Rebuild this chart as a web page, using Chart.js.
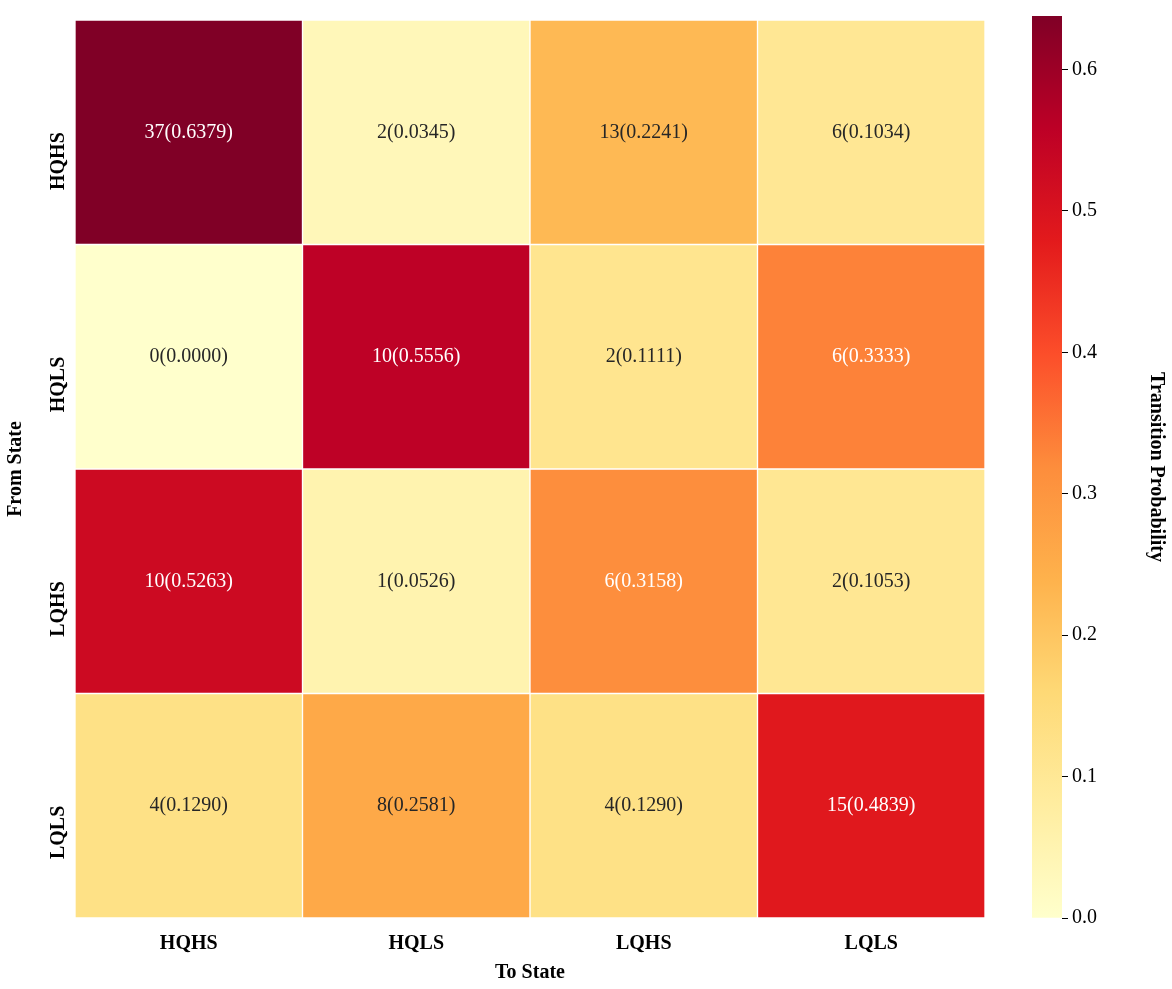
<!DOCTYPE html>
<html><head><meta charset="utf-8">
<script src="https://cdn.jsdelivr.net/npm/chart.js@4/dist/chart.umd.min.js"></script>
<style>body{margin:0;background:#fff}#a{position:absolute;left:0;top:0}#b{position:absolute;left:1000px;top:0}</style>
</head><body>
<canvas id="a" width="1000" height="989"></canvas>
<canvas id="b" width="172" height="989"></canvas>
<script>
const toStates = ["HQHS","HQLS","LQHS","LQLS"];
const fromStates = ["HQHS","HQLS","LQHS","LQLS"];
const counts = [[37,2,13,6],[0,10,2,6],[10,1,6,2],[4,8,4,15]];
const probs = [[0.6379,0.0345,0.2241,0.1034],[0.0000,0.5556,0.1111,0.3333],[0.5263,0.0526,0.3158,0.1053],[0.1290,0.2581,0.1290,0.4839]];
const cbTicks = [0.0,0.1,0.2,0.3,0.4,0.5,0.6];
const vmax = 0.6379;
const stops = ["#ffffcc","#ffeda0","#fed976","#feb24c","#fd8d3c","#fc4e2a","#e31a1c","#bd0026","#800026"];
function hex(h){return [1,3,5].map(i=>parseInt(h.substr(i,2),16));}
function cmap(v){let t=Math.max(0,Math.min(1,v/vmax))*(stops.length-1);let i=Math.min(Math.floor(t),stops.length-2);let f=t-i;let a=hex(stops[i]),b=hex(stops[i+1]);return `rgb(${a.map((x,k)=>Math.round(x+(b[k]-x)*f)).join(',')})`;}
Chart.defaults.font.family="'Liberation Serif', serif";
Chart.defaults.color="#000";
const FS=20;
const datasets = fromStates.map((fs,r)=>({
  label:fs,
  data: toStates.map(()=>[r,r+1]),
  backgroundColor: probs[r].map(cmap),
  borderColor:"#fff",borderWidth:1,borderSkipped:false,
  barPercentage:1,categoryPercentage:1,grouped:false
}));
const labelPlugin={id:'lbl',afterDatasetsDraw(c){const ctx=c.ctx;ctx.save();ctx.font=`${FS}px 'Liberation Serif'`;ctx.textAlign='center';ctx.textBaseline='middle';
  for(let r=0;r<4;r++)for(let k=0;k<4;k++){const x=c.scales.x.getPixelForValue(k);const y=c.scales.y.getPixelForValue(r+0.5);
  ctx.fillStyle=probs[r][k]>0.3?'#fff':'#262626';ctx.fillText(`${counts[r][k]}(${probs[r][k].toFixed(4)})`,x,y);}ctx.restore();}};
new Chart(document.getElementById('a'),{type:'bar',data:{labels:toStates,datasets},plugins:[labelPlugin],
 options:{responsive:false,animation:false,layout:{padding:{top:8,right:15,left:0,bottom:0}},
  plugins:{legend:{display:false},tooltip:{enabled:false}},
  scales:{
   x:{grid:{display:false},border:{display:false},ticks:{font:{size:FS,weight:'bold'},padding:6},
      title:{display:true,text:'To State',font:{size:FS,weight:'bold'},padding:{top:0}},
      afterFit(s){s.height=71;}},
   y:{type:'linear',min:0,max:4,reverse:true,grid:{display:false},border:{display:false},
      afterBuildTicks(s){s.ticks=[0.5,1.5,2.5,3.5].map(v=>({value:v}));},
      ticks:{autoSkip:false,font:{size:FS,weight:'bold'},padding:8,maxRotation:90,minRotation:90,callback:(v)=>fromStates[Math.floor(v)]},
      title:{display:true,text:'From State',font:{size:FS,weight:'bold'},padding:{bottom:0}},
      afterFit(s){s.width=75;}}
  }}});
new Chart(document.getElementById('b'),{type:'bar',data:{labels:['cb'],datasets:[{data:[[0,vmax]],barPercentage:1,categoryPercentage:1,
   backgroundColor(ctx){const a=ctx.chart.chartArea;if(!a)return '#fff';const g=ctx.chart.ctx.createLinearGradient(0,a.bottom,0,a.top);stops.forEach((s,i)=>g.addColorStop(i/(stops.length-1),s));return g;}}]},
 options:{responsive:false,animation:false,layout:{padding:{top:8,bottom:71,left:32,right:0}},
  plugins:{legend:{display:false},tooltip:{enabled:false}},
  scales:{x:{display:false},
   y:{position:'right',min:0,max:vmax,grid:{drawOnChartArea:false,tickLength:6,color:'#000'},border:{display:false},
      afterBuildTicks(s){s.ticks=cbTicks.map(v=>({value:v}));},
      ticks:{font:{size:FS},padding:4,callback:v=>v.toFixed(1)},
      title:{display:true,text:'Transition Probability',font:{size:FS,weight:'bold'}},
      afterFit(s){s.width=110;}}}}});
</script></body></html>
